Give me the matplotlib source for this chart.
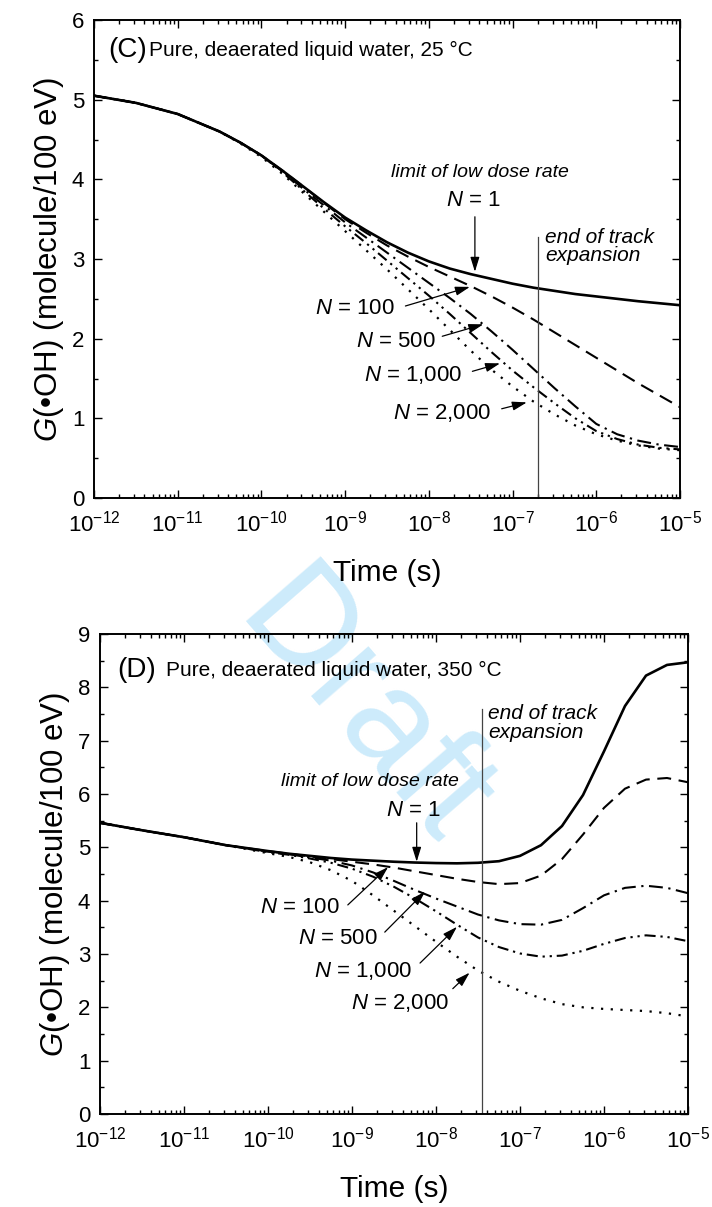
import numpy as np
import matplotlib
matplotlib.use("Agg")
import matplotlib.pyplot as plt
from matplotlib.ticker import LogLocator, FuncFormatter, MultipleLocator, NullFormatter

FONT = "Liberation Sans"
plt.rcParams["font.family"] = [FONT, "DejaVu Sans"]
plt.rcParams["mathtext.fontset"] = "custom"
plt.rcParams["mathtext.rm"] = FONT
plt.rcParams["mathtext.it"] = FONT + ":italic"
plt.rcParams["mathtext.bf"] = FONT + ":bold"
plt.rcParams["mathtext.default"] = "regular"
plt.rcParams["lines.scale_dashes"] = False

# ---------------------------------------------------------------- data
# (C) 25 degC : log10(time / s) and G(OH) for each number of tracks N
logt_c = [-12, -11.5, -11, -10.5, -10.25, -10, -9.75, -9.5, -9.25, -9, -8.75, -8.5,
          -8.25, -8, -7.75, -7.5, -7.25, -7, -6.75, -6.5, -6.25, -6, -5.75, -5.5,
          -5.25, -5]
g_c_n1 = [5.05, 4.96, 4.82, 4.60, 4.46, 4.30, 4.11, 3.91, 3.71, 3.52, 3.36, 3.21,
          3.08, 2.97, 2.88, 2.81, 2.75, 2.69, 2.64, 2.60, 2.56, 2.53, 2.50, 2.47,
          2.445, 2.42]
g_c_n100 = [5.05, 4.96, 4.82, 4.60, 4.46, 4.30, 4.11, 3.91, 3.70, 3.50, 3.33, 3.17,
            3.03, 2.90, 2.78, 2.66, 2.53, 2.39, 2.24, 2.08, 1.92, 1.76, 1.60, 1.44,
            1.29, 1.14]
g_c_n500 = [5.05, 4.96, 4.82, 4.60, 4.46, 4.30, 4.10, 3.88, 3.67, 3.46, 3.27, 3.08,
            2.89, 2.70, 2.51, 2.31, 2.09, 1.86, 1.62, 1.38, 1.15, 0.93, 0.80, 0.72,
            0.67, 0.64]
g_c_n1000 = [5.05, 4.96, 4.82, 4.60, 4.46, 4.30, 4.09, 3.86, 3.63, 3.41, 3.20, 2.98,
             2.76, 2.54, 2.31, 2.07, 1.83, 1.60, 1.39, 1.19, 1.00, 0.84, 0.74, 0.67,
             0.63, 0.61]
g_c_n2000 = [5.05, 4.96, 4.82, 4.60, 4.45, 4.28, 4.07, 3.83, 3.59, 3.35, 3.11, 2.87,
             2.62, 2.37, 2.11, 1.85, 1.61, 1.40, 1.21, 1.05, 0.91, 0.80, 0.72, 0.66,
             0.62, 0.60]

# (D) 350 degC
logt_d = [-12, -11.5, -11, -10.5, -10, -9.75, -9.5, -9.25, -9, -8.75, -8.5, -8.25,
          -8, -7.75, -7.5, -7.25, -7, -6.75, -6.5, -6.25, -6, -5.75, -5.5, -5.25, -5]
g_d_n1 = [5.46, 5.32, 5.19, 5.04, 4.93, 4.88, 4.84, 4.80, 4.77, 4.75, 4.73, 4.715,
          4.705, 4.70, 4.71, 4.74, 4.84, 5.04, 5.40, 5.98, 6.80, 7.65, 8.22, 8.42, 8.47]
g_d_n100 = [5.46, 5.32, 5.19, 5.04, 4.93, 4.88, 4.83, 4.78, 4.73, 4.68, 4.62, 4.55,
            4.48, 4.41, 4.35, 4.31, 4.33, 4.47, 4.78, 5.24, 5.74, 6.10, 6.27, 6.30, 6.22]
g_d_n500 = [5.46, 5.32, 5.19, 5.04, 4.92, 4.87, 4.81, 4.75, 4.66, 4.53, 4.37, 4.20,
            4.04, 3.89, 3.74, 3.63, 3.56, 3.55, 3.64, 3.86, 4.10, 4.24, 4.28, 4.24, 4.14]
g_d_n1000 = [5.46, 5.32, 5.19, 5.04, 4.91, 4.86, 4.79, 4.71, 4.60, 4.45, 4.26, 4.04,
             3.80, 3.55, 3.31, 3.13, 3.01, 2.95, 2.97, 3.06, 3.19, 3.30, 3.35, 3.32, 3.24]
g_d_n2000 = [5.46, 5.32, 5.19, 5.04, 4.89, 4.82, 4.72, 4.57, 4.37, 4.10, 3.81, 3.52,
             3.23, 2.95, 2.69, 2.48, 2.31, 2.17, 2.06, 2.00, 1.97, 1.95, 1.93, 1.89, 1.83]

track_end_c = 2e-7      # end of track expansion, 25 degC
track_end_d = 3.5e-8    # end of track expansion, 350 degC

labels_n = [r"$\mathit{N}$ = 100", r"$\mathit{N}$ = 500",
            r"$\mathit{N}$ = 1,000", r"$\mathit{N}$ = 2,000"]

# ---------------------------------------------------------------- styles
styles = [
    dict(ls="-", lw=1.9),
    dict(ls=(0, (10, 5.5)), lw=1.5),
    dict(ls=(0, (10, 4, 1.6, 4)), lw=1.5),
    dict(ls=(0, (8, 3.5, 1.6, 3.5, 1.6, 3.5)), lw=1.5),
    dict(ls=(0, (1.6, 5.4)), lw=1.6),
]

W, H = 712, 1207
fig = plt.figure(figsize=(W / 100, H / 100), dpi=100)
fig.patch.set_facecolor("white")

ax_c = fig.add_axes([94 / W, 1 - 498 / H, 586 / W, 478 / H])
ax_d = fig.add_axes([100 / W, 1 - 1114 / H, 588 / W, 480 / H])

# watermark behind the axes
fig.text(362 / W, 1 - 712 / H, "Draft", rotation=-49, fontsize=102,
         color="#cdebfb", ha="center", va="center", zorder=-5)


def sci(v, pos):
    e = int(round(np.log10(v)))
    return r"$10^{%d}$" % e


def style_axes(ax, ymax):
    ax.patch.set_alpha(0)
    ax.set_xscale("log")
    ax.set_xlim(1e-12, 1e-5)
    ax.set_ylim(0, ymax)
    ax.xaxis.set_major_locator(LogLocator(base=10, numticks=20))
    ax.xaxis.set_minor_locator(LogLocator(base=10, subs=np.arange(2, 10), numticks=20))
    ax.xaxis.set_major_formatter(FuncFormatter(sci))
    ax.xaxis.set_minor_formatter(NullFormatter())
    ax.yaxis.set_major_locator(MultipleLocator(1))
    ax.yaxis.set_minor_locator(MultipleLocator(0.5))
    ax.tick_params(which="both", direction="in", top=True, right=True, width=1.0)
    ax.tick_params(which="major", length=5.5, labelsize=16)
    ax.tick_params(axis="x", which="major", pad=9)
    ax.tick_params(axis="y", which="major", pad=7)
    ax.tick_params(which="minor", length=3)
    for s in ax.spines.values():
        s.set_linewidth(1.4)
    ax.set_xlabel("Time (s)", fontsize=21.5, labelpad=16)
    ax.set_ylabel(r"$\mathit{G}$(•OH) (molecule/100 eV)", fontsize=22.5, labelpad=4)


def lt(v):
    return 10.0 ** v


def arrow(ax, x0, y0, x1, y1):
    ax.annotate("", xy=(lt(x1), y1), xytext=(lt(x0), y0),
                arrowprops=dict(arrowstyle="-|>,head_length=0.55,head_width=0.17",
                                color="black", lw=0.9, shrinkA=0, shrinkB=0,
                                mutation_scale=16))


# ---------------------------------------------------------------- panel C
tc = [lt(v) for v in logt_c]
for ys, st in zip([g_c_n1, g_c_n100, g_c_n500, g_c_n1000, g_c_n2000], styles):
    ax_c.plot(tc, ys, color="black", **st)
ax_c.plot([track_end_c, track_end_c], [0, 3.27], color="#444444", lw=0.9)
style_axes(ax_c, 6)

ax_c.text(0.024, 0.937, "(C)", transform=ax_c.transAxes, fontsize=20,
          ha="left", va="center")
ax_c.text(0.094, 0.937, "Pure, deaerated liquid water, 25 °C",
          transform=ax_c.transAxes, fontsize=15, ha="left", va="center")
ax_c.text(lt(-7.39), 4.09, "limit of low dose rate", style="italic", fontsize=14,
          ha="center", va="center")
ax_c.text(lt(-7.47), 3.74, r"$\mathit{N}$ = 1", fontsize=16, ha="center", va="center")
arrow(ax_c, -7.45, 3.53, -7.45, 2.84)
ax_c.text(lt(-6.61), 3.16, "end of track\nexpansion", style="italic", fontsize=15,
          ha="left", va="center", linespacing=0.95)

lab_c = [(-8.88, 2.38), (-8.40, 1.96), (-8.19, 1.54), (-7.84, 1.07)]
arr_c = [((-8.28, 2.41), (-7.51, 2.65)), ((-7.84, 2.03), (-7.35, 2.18)),
         ((-7.48, 1.59), (-7.15, 1.69)), ((-7.13, 1.12), (-6.83, 1.20))]
for txt, (lx, ly), (a, b) in zip(labels_n, lab_c, arr_c):
    ax_c.text(lt(lx), ly, txt, fontsize=16, ha="center", va="center")
    arrow(ax_c, a[0], a[1], b[0], b[1])

# ---------------------------------------------------------------- panel D
td = [lt(v) for v in logt_d]
for ys, st in zip([g_d_n1, g_d_n100, g_d_n500, g_d_n1000, g_d_n2000], styles):
    ax_d.plot(td, ys, color="black", **st)
ax_d.plot([track_end_d, track_end_d], [0, 7.6], color="#444444", lw=0.9)
style_axes(ax_d, 9)

ax_d.text(0.029, 0.925, "(D)", transform=ax_d.transAxes, fontsize=20,
          ha="left", va="center")
ax_d.text(0.112, 0.925, "Pure, deaerated liquid water, 350 °C",
          transform=ax_d.transAxes, fontsize=15, ha="left", va="center")
ax_d.text(lt(-8.79), 6.23, "limit of low dose rate", style="italic", fontsize=14,
          ha="center", va="center")
ax_d.text(lt(-8.27), 5.70, r"$\mathit{N}$ = 1", fontsize=16, ha="center", va="center")
arrow(ax_d, -8.23, 5.46, -8.23, 4.73)
ax_d.text(lt(-7.38), 7.33, "end of track\nexpansion", style="italic", fontsize=15,
          ha="left", va="center", linespacing=0.95)

lab_d = [(-9.62, 3.88), (-9.17, 3.30), (-8.87, 2.68), (-8.43, 2.08)]
arr_d = [((-9.05, 3.92), (-8.57, 4.63)), ((-8.61, 3.41), (-8.13, 4.17)),
         ((-8.19, 2.83), (-7.75, 3.51)), ((-7.80, 2.35), (-7.60, 2.65))]
for txt, (lx, ly), (a, b) in zip(labels_n, lab_d, arr_d):
    ax_d.text(lt(lx), ly, txt, fontsize=16, ha="center", va="center")
    arrow(ax_d, a[0], a[1], b[0], b[1])

fig.savefig("out.png", dpi=100, facecolor="white")
